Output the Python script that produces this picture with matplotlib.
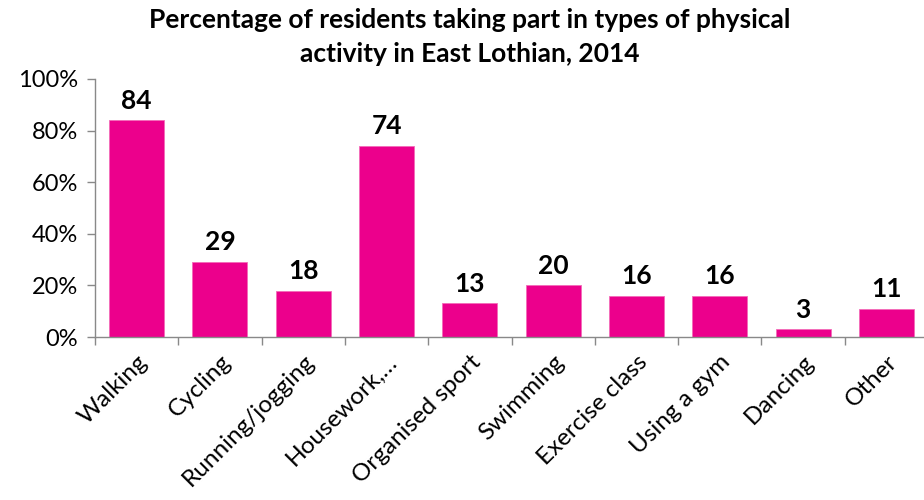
import matplotlib
matplotlib.use("Agg")
import matplotlib.pyplot as plt
from matplotlib.ticker import PercentFormatter

categories = ["Walking", "Cycling", "Running/jogging", "Housework,\u2026", "Organised sport",
              "Swimming", "Exercise class", "Using a gym", "Dancing", "Other"]
values = [84, 29, 18, 74, 13, 20, 16, 16, 3, 11]
title = "Percentage of residents taking part in types of physical\nactivity in East Lothian, 2014"

plt.rcParams['font.family'] = ['Lato', 'DejaVu Sans']

fig = plt.figure(figsize=(9.24, 5.0), dpi=100)
ax = fig.add_axes([95/924, 163/500, 833/924, 258/500])

x = list(range(len(categories)))
bars = ax.bar(x, values, width=0.66, color='#EC008C', edgecolor='#F36BB8', linewidth=0.6)
for xi, v in zip(x, values):
    ax.text(xi, v + 3.0, str(v), ha='center', va='bottom', fontsize=19, fontweight='bold', color='black')

ax.set_xlim(-0.5, len(categories) - 0.5)
ax.set_ylim(0, 100)
ax.set_yticks([0, 20, 40, 60, 80, 100])
ax.yaxis.set_major_formatter(PercentFormatter(decimals=0))
ax.set_xticks(x)
ax.set_xticklabels(categories, rotation=45, ha='right', rotation_mode='anchor', fontsize=17.5)
ax.set_xticks([i - 0.5 for i in range(len(categories) + 1)], minor=True)
ax.tick_params(axis='x', which='major', length=0, pad=10)
ax.tick_params(axis='x', which='minor', length=6, color='#898989', width=1)
ax.tick_params(axis='y', length=6, color='#898989', width=1, labelsize=17, pad=6)

for s in ['top', 'right']:
    ax.spines[s].set_visible(False)
for s in ['left', 'bottom']:
    ax.spines[s].set_color('#898989')
    ax.spines[s].set_linewidth(1)

fig.text(470/924, 1 - 37/500, title, ha='center', va='center', fontsize=19, fontweight='bold', linespacing=1.55)

fig.savefig("out.png", dpi=100)
